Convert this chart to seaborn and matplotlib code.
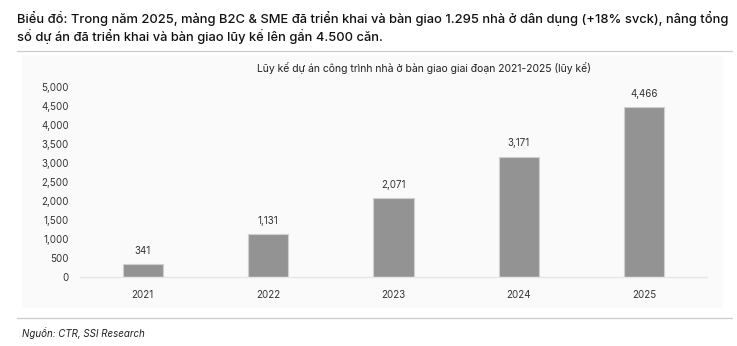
import matplotlib
matplotlib.use("Agg")
import matplotlib.pyplot as plt
from matplotlib.patches import Rectangle
from matplotlib.ticker import FuncFormatter
import seaborn as sns
import pandas as pd

years = ["2021", "2022", "2023", "2024", "2025"]
cumulative_homes = [341, 1131, 2071, 3171, 4466]
y_ticks = [0, 500, 1000, 1500, 2000, 2500, 3000, 3500, 4000, 4500, 5000]

headline = ("Biểu đồ: Trong năm 2025, mảng B2C & SME đã triển khai và bàn giao 1.295 nhà ở dân dụng (+18% svck), nâng tổng\n"
            "số dự án đã triển khai và bàn giao lũy kế lên gần 4.500 căn.")
chart_title = "Lũy kế dự án công trình nhà ở bàn giao giai đoạn 2021-2025 (lũy kế)"
source = "Nguồn: CTR, SSI Research"

sns.set_theme(style="white")
plt.rcParams["font.family"] = ["Inter", "DejaVu Sans"]

df = pd.DataFrame({"year": years, "homes": cumulative_homes})

W, H = 737, 346
fig = plt.figure(figsize=(W / 100, H / 100), dpi=100)
fig.patch.set_facecolor("white")

# faint panel behind the chart
fig.patches.append(Rectangle((22 / W, 1 - 308 / H), (723 - 22) / W, (308 - 55) / H,
                             transform=fig.transFigure, facecolor="#fafafa",
                             edgecolor="none", zorder=-5))

ax = fig.add_axes([80 / W, 1 - 277 / H, (707 - 80) / W, (277 - 87) / H])
ax.set_zorder(2)
ax.set_facecolor("none")

sns.barplot(data=df, x="year", y="homes", color="#939393", width=0.32,
            edgecolor="#d0d0d0", linewidth=0.8, saturation=1, ax=ax)

ax.set_ylim(0, 5000)
ax.set_yticks(y_ticks)
ax.yaxis.set_major_formatter(FuncFormatter(lambda v, p: f"{int(v):,}"))
ax.set_xlabel("")
ax.set_ylabel("")
ax.tick_params(axis="both", length=0, labelsize=7, labelcolor="#333333")
ax.tick_params(axis="y", pad=8)
ax.tick_params(axis="x", pad=9)
for s in ["top", "right", "left"]:
    ax.spines[s].set_visible(False)
ax.spines["bottom"].set_color("#e6e6e6")
ax.spines["bottom"].set_linewidth(1.0)

for cont in ax.containers:
    ax.bar_label(cont, labels=[f"{v:,}" for v in cumulative_homes],
                 padding=6, fontsize=7, color="#333333")

fig.text(17 / W, 1 - 11 / H, headline, ha="left", va="top", fontsize=9.3,
         fontweight="medium", color="#111111", linespacing=1.25)
fig.text(424 / W, 1 - 68 / H, chart_title, ha="center", va="center",
         fontsize=7.5, color="#222222")
fig.text(22 / W, 1 - 333 / H, source, ha="left", va="center", fontsize=7,
         style="italic", color="#222222")

for yy in (51, 318):
    fig.add_artist(plt.Line2D([17 / W, 732 / W], [1 - yy / H, 1 - yy / H],
                              transform=fig.transFigure, color="#cccccc", lw=0.9))

fig.savefig("out.png", dpi=100, facecolor="white")
